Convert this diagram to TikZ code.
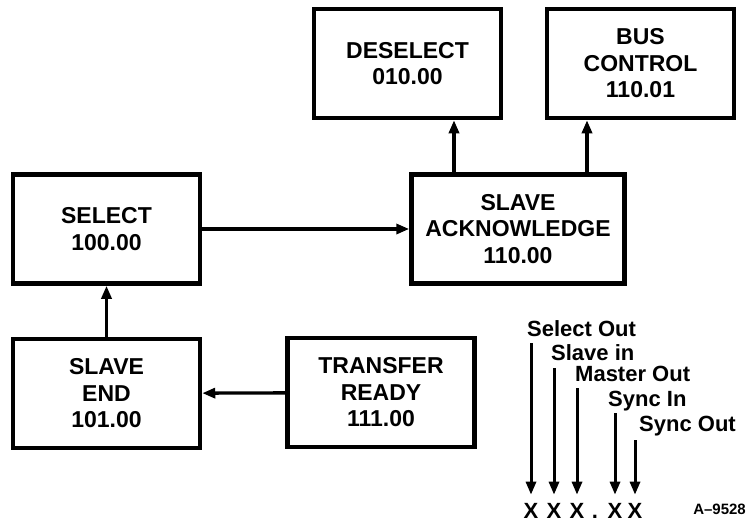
\documentclass[tikz,border=0pt]{standalone}
\usepackage{fontspec}
\setmainfont{Liberation Sans}
\usetikzlibrary{positioning, arrows.meta, calc}

\begin{document}
\begin{tikzpicture}[
    x=1pt, y=-1pt,
    state/.style={draw, line width=4.5pt, align=center, inner sep=0pt,
        minimum width=187pt, minimum height=109pt,
        font=\fontsize{23}{26.5}\selectfont\bfseries},
    flow/.style={-{Triangle[length=13pt,width=10pt]}, line width=3.3pt},
    bitname/.style={anchor=base west, inner sep=0pt,
        font=\fontsize{22}{26}\selectfont\bfseries},
    bitpos/.style={anchor=base, inner sep=0pt, font=\fontsize{22}{26}\selectfont\bfseries}
]
\useasboundingbox (0,0) rectangle (746,525);

% State boxes
\node[state] (deselect) at (407.5,63.5) {DESELECT\\010.00};
\node[state] (busctrl) at (640.5,63.5) {BUS\\CONTROL\\110.01};
\node[state] (select) at (106.5,229) {SELECT\\100.00};
\node[state, minimum width=213pt] (slaveack) at (518,229) {SLAVE\\ACKNOWLEDGE\\110.00};
\node[state] (slaveend) at (106.5,393.5) {SLAVE\\END\\101.00};
\node[state] (xferrdy) at (381,392.5) {TRANSFER\\READY\\111.00};

% Transitions
\draw[flow] (select) -- (slaveack);
\draw[flow] ([xshift=-64pt]slaveack.north) -- ([xshift=-64pt]slaveack.north |- deselect.south);
\draw[flow] ([xshift=69pt]slaveack.north) -- ([xshift=69pt]slaveack.north |- busctrl.south);
\draw[flow] (slaveend) -- (select);
\draw[flow] (xferrdy) -- (slaveend);

% Bit legend
\node[bitname] (selout) at (527,336) {Select Out};
\node[bitname] (slvin) at (551,360) {Slave in};
\node[bitname] (mstout) at (575,381) {Master Out};
\node[bitname] (syncin) at (608,406) {Sync In};
\node[bitname] (syncout) at (639,431) {Sync Out};

\node[bitpos] (x1) at (531,518) {X};
\node[bitpos] (x2) at (554,518) {X};
\node[bitpos] (x3) at (577,518) {X};
\node[bitpos] (pt) at (595,518) {.};
\node[bitpos] (x4) at (615,518) {X};
\node[bitpos] (x5) at (635,518) {X};

\draw[flow, line width=3pt, shorten >=8pt] ($(x1 |- selout.base)+(0,7)$) -- (x1.north);
\draw[flow, line width=3pt, shorten >=8pt] ($(x2 |- slvin.base)+(0,8)$) -- (x2.north);
\draw[flow, line width=3pt, shorten >=8pt] ($(x3 |- mstout.base)+(0,7)$) -- (x3.north);
\draw[flow, line width=3pt, shorten >=8pt] ($(x4 |- syncin.base)+(0,7)$) -- (x4.north);
\draw[flow, line width=3pt, shorten >=8pt] ($(x5 |- syncout.base)+(0,9)$) -- (x5.north);

\node[anchor=base east, inner sep=0pt, font=\fontsize{15}{17}\selectfont\bfseries] (fignum) at (746,514) {A--9528};

\end{tikzpicture}
\end{document}
